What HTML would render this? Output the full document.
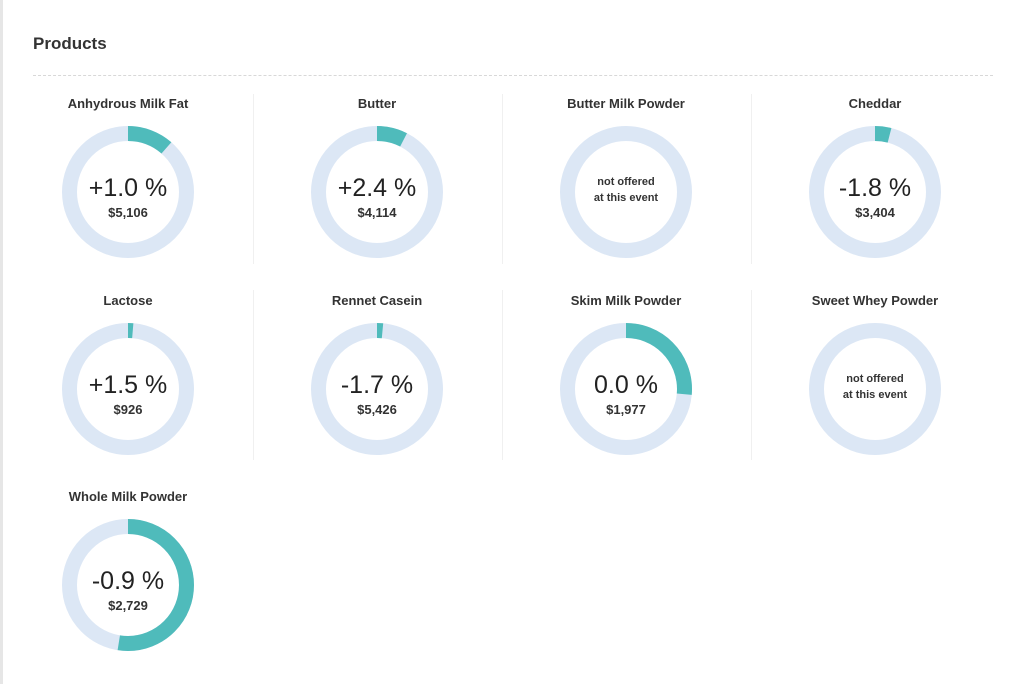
<!DOCTYPE html>
<html><head><meta charset="utf-8"><style>
body{margin:0;width:1024px;height:684px;background:#fff;font-family:"Liberation Sans",sans-serif;color:#333;position:relative;overflow:hidden}
.lb{position:absolute;left:0;top:0;width:3px;height:684px;background:#e6e6e6}
h1{position:absolute;left:33px;top:34px;margin:0;font-size:17px;font-weight:bold;color:#333}
.hr{position:absolute;left:33px;top:75px;width:960px;border-top:1px dashed #d8d8d8}
.vs{position:absolute;width:1px;height:170px;background:#f0f0f0}
.c{position:absolute;width:240px;text-align:center}
.t{font-size:13px;font-weight:bold;color:#333;height:20px;line-height:20px}
svg{position:absolute}
.p{position:absolute;width:240px;text-align:center;font-size:25px;line-height:28px;color:#222}
.v{position:absolute;width:240px;text-align:center;font-size:13px;font-weight:bold;color:#333}
.n{position:absolute;width:240px;text-align:center;font-size:11px;line-height:16px;font-weight:bold;color:#333}
</style></head><body>
<div class="lb"></div>
<h1>Products</h1>
<div class="hr"></div>
<div class="vs" style="left:253px;top:94px"></div>
<div class="vs" style="left:502px;top:94px"></div>
<div class="vs" style="left:751px;top:94px"></div>
<div class="vs" style="left:253px;top:290px"></div>
<div class="vs" style="left:502px;top:290px"></div>
<div class="vs" style="left:751px;top:290px"></div>
<div id="root"></div>
<script>
var items=[
["Anhydrous Milk Fat","+1.0 %","$5,106",0.114],
["Butter","+2.4 %","$4,114",0.075],
["Butter Milk Powder",null,null,0],
["Cheddar","-1.8 %","$3,404",0.04],
["Lactose","+1.5 %","$926",0.013],
["Rennet Casein","-1.7 %","$5,426",0.015],
["Skim Milk Powder","0.0 %","$1,977",0.264],
["Sweet Whey Powder",null,null,0],
["Whole Milk Powder","-0.9 %","$2,729",0.525]];
var h="";var C=2*Math.PI*58.5;
items.forEach(function(it,i){
var col=i%4,row=Math.floor(i/4);
var cx=128+249*col,cy=192+196.5*row;
var l=cx-120;
h+='<div class="c" style="left:'+l+'px;top:'+(cy-98)+'px"><div class="t">'+it[0]+'</div></div>';
h+='<svg width="140" height="140" style="left:'+(cx-70)+'px;top:'+(cy-70)+'px"><circle cx="70" cy="70" r="58.5" fill="none" stroke="#dce7f5" stroke-width="15"/>';
if(it[3]>0)h+='<circle cx="70" cy="70" r="58.5" fill="none" stroke="#4fbbbb" stroke-width="15" stroke-dasharray="'+(C*it[3])+' '+C+'" transform="rotate(-90 70 70)"/>';
h+='</svg>';
if(it[1]){
h+='<div class="p" style="left:'+l+'px;top:'+(cy-18)+'px">'+it[1]+'</div>';
h+='<div class="v" style="left:'+l+'px;top:'+(cy+13)+'px">'+it[2]+'</div>';
}else{
h+='<div class="n" style="left:'+l+'px;top:'+(cy-18)+'px">not offered<br>at this event</div>';
}
});
document.getElementById("root").innerHTML=h;
</script>
</body></html>
